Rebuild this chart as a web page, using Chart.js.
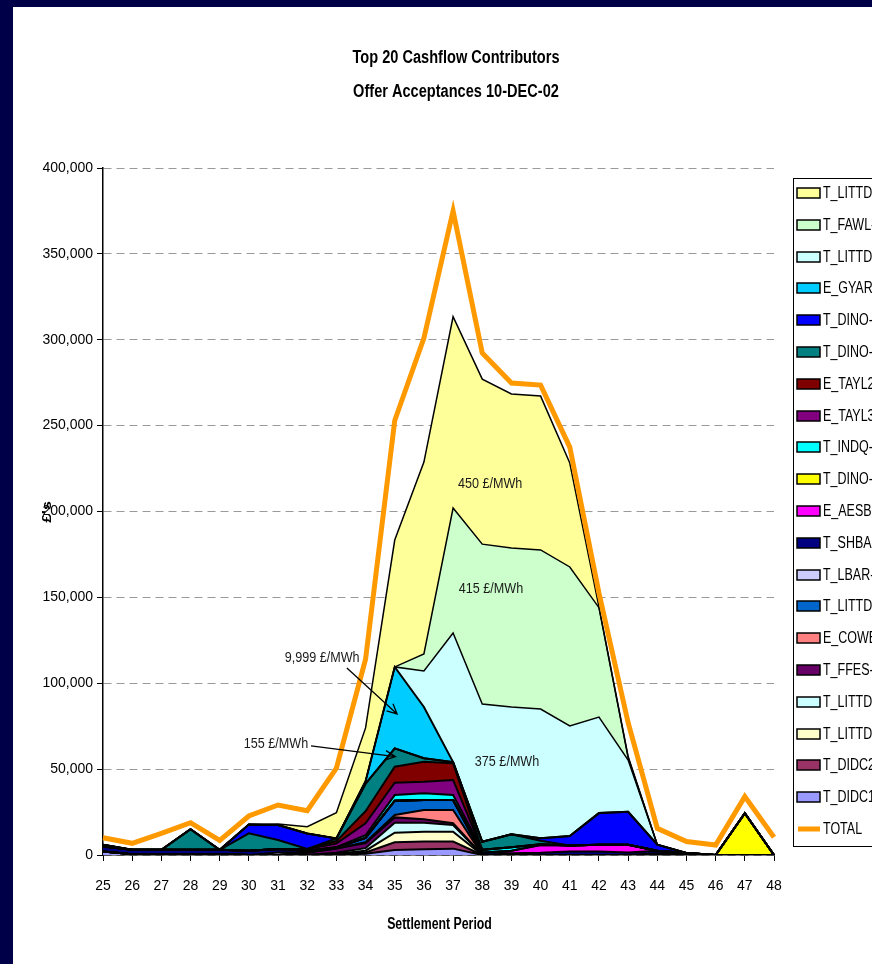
<!DOCTYPE html>
<html><head><meta charset="utf-8">
<script src="https://cdn.jsdelivr.net/npm/chart.js@4.4.1/dist/chart.umd.min.js"></script>
<style>
html,body{margin:0;padding:0;background:#000048;overflow:hidden;width:872px;height:964px;}
#frame{position:absolute;left:13px;top:7px;width:859px;height:957px;background:#fff;overflow:hidden;}
canvas{display:block;}
</style></head><body><div id="frame"><canvas id="c" width="859" height="957"></canvas></div>
<script>
// ---------------- data ----------------
const periods = ['25','26','27','28','29','30','31','32','33','34','35','36','37','38','39','40','41','42','43','44','45','46','47','48'];
const yTicks = [0,50000,100000,150000,200000,250000,300000,350000,400000];

const T_DIDC1   = [2000,500,500,500,500,0,0,0,300,700,2900,3300,3700,0,0,0,0,0,0,0,0,0,0,0];
const T_DIDC2   = [0,0,0,0,0,0,0,0,200,800,4500,4500,4100,0,0,0,0,0,0,0,0,0,0,0];
const T_LITTD_e = [0,0,0,0,0,0,0,0,300,1000,5600,5800,5800,0,0,0,0,0,0,0,0,0,0,0];
const T_LITTD_d = [0,0,0,0,0,0,0,0,500,1500,5800,5200,3900,0,0,0,0,0,0,0,0,0,0,0];
const T_FFES    = [0,0,0,0,0,0,0,1500,2500,3000,3100,2000,1000,0,0,0,0,0,0,0,0,0,0,0];
const E_COWE    = [0,0,0,0,0,0,0,0,0,500,1400,5400,7700,0,0,0,0,0,0,0,0,0,0,0];
const T_LITTD_c = [0,0,0,0,0,0,0,0,500,2500,8300,5800,5800,0,0,0,0,0,0,0,0,0,0,0];
const T_LBAR    = [0,0,0,0,0,0,1500,0,0,0,0,0,0,0,0,0,0,0,0,1000,800,0,0,0];
const T_SHBA    = [3000,2500,2500,2500,2500,2500,2000,1000,0,0,0,0,0,1500,1000,1300,2000,2000,1500,1500,400,0,0,0];
const E_AESB    = [0,0,0,0,0,0,0,0,0,0,0,0,0,0,1500,4500,3500,4000,4500,0,0,0,0,0];
const T_DINO_y  = [0,0,0,0,0,0,0,0,0,0,0,0,0,0,0,0,0,0,0,0,0,0,24300,0];
const T_INDQ    = [0,0,0,0,0,0,0,0,300,1500,3300,3900,2900,1500,2000,500,0,0,0,0,0,0,0,0];
const E_TAYL3   = [0,0,0,0,0,0,0,1000,2000,7000,7200,6800,8800,0,0,0,0,0,0,0,0,0,0,0];
const E_TAYL2   = [0,0,0,0,0,0,0,0,1500,7000,9300,11600,9700,0,0,0,0,0,0,0,0,0,0,0];
const T_DINO_t  = [1000,0,0,12000,0,10100,5200,0,1500,16000,10700,2000,700,4700,7500,2000,0,0,0,0,0,0,0,0];
const T_DINO_b  = [0,0,0,0,0,5200,8800,9000,0,0,0,0,0,0,0,1400,5500,18400,19200,3500,0,0,0,0];
const E_GYAR    = [0,0,0,0,0,0,0,0,0,1500,47400,29900,0,0,0,0,0,0,0,0,0,0,0,0];
const T_LITTD_b = [0,0,0,0,0,0,0,0,0,0,0,20900,75200,80200,74200,75300,64100,55900,30100,0,0,0,0,0];
const T_FAWL    = [0,0,0,0,0,0,0,0,0,0,0,10000,72700,93100,92500,92600,92600,63700,1500,0,0,0,0,0];
const T_LITTD_a = [0,0,0,0,0,0,500,4000,15000,31000,73900,111700,111400,96100,89700,89600,60500,500,500,0,0,0,0,0];
const TOTAL     = [10000,6800,12600,18800,8500,22700,29100,25800,50500,114000,253000,301000,375000,292300,274800,273600,237500,152500,77000,15500,7800,5800,34000,10300];

// ---------------- text ----------------
const titleLines = ['Top 20 Cashflow Contributors', 'Offer Acceptances 10-DEC-02'];
const xTitle = 'Settlement Period';
const yTitle = "£'s";

// ---------------- series (bottom of stack first) ----------------
const layers = [
  ['T_DIDC1',   T_DIDC1,   '#9999FF'],
  ['T_DIDC2',   T_DIDC2,   '#993366'],
  ['T_LITTD-5', T_LITTD_e, '#FFFFCC'],
  ['T_LITTD-4', T_LITTD_d, '#CCFFFF'],
  ['T_FFES-1',  T_FFES,    '#660066'],
  ['E_COWE-1',  E_COWE,    '#FF8080'],
  ['T_LITTD-3', T_LITTD_c, '#0066CC'],
  ['T_LBAR-1',  T_LBAR,    '#CCCCFF'],
  ['T_SHBA-1',  T_SHBA,    '#000080'],
  ['E_AESB-1',  E_AESB,    '#FF00FF'],
  ['T_DINO-6',  T_DINO_y,  '#FFFF00'],
  ['T_INDQ-1',  T_INDQ,    '#00FFFF'],
  ['E_TAYL3',   E_TAYL3,   '#800080'],
  ['E_TAYL2',   E_TAYL2,   '#800000'],
  ['T_DINO-5',  T_DINO_t,  '#008080'],
  ['T_DINO-4',  T_DINO_b,  '#0000FF'],
  ['E_GYAR-1',  E_GYAR,    '#00CCFF'],
  ['T_LITTD-2', T_LITTD_b, '#CCFFFF'],
  ['T_FAWL-1',  T_FAWL,    '#CCFFCC'],
  ['T_LITTD-1', T_LITTD_a, '#FFFF99']
];

// annotation anchors in data units (category index, value)
const notes = [
  {text:'450 £/MWh',   at:[13.27, 216000]},
  {text:'415 £/MWh',   at:[13.30, 154900]},
  {text:'375 £/MWh',   at:[13.85, 54100]},
  {text:'9,999 £/MWh', at:[7.51, 114700]},
  {text:'155 £/MWh',   at:[5.93, 64600]}
];
const arrows = [
  {from:[8.36, 108900], to:[10.08, 82100]},
  {from:[7.13, 63500],  to:[10.02, 57300]}
];

const FF = "'Liberation Sans','Arial',sans-serif";
Chart.defaults.font.family = FF;

const datasets = layers.map((l, i) => ({
  label: l[0], data: l[1], backgroundColor: l[2], borderColor: '#000',
  borderWidth: i >= 17 ? 1.5 : 2, pointRadius: 0, pointHoverRadius: 0,
  fill: i === 0 ? 'origin' : '-1', tension: 0, stack: 'units', order: 1
}));
datasets.push({
  label: 'TOTAL', data: TOTAL, borderColor: '#FF9900', backgroundColor: '#FF9900',
  borderWidth: 5, pointRadius: 0, pointHoverRadius: 0, fill: false, tension: 0,
  stack: 'total', order: 0, borderJoinStyle: 'miter'
});

function cText(ctx, text, x, y, sx) {
  ctx.save(); ctx.translate(x, y); ctx.scale(sx, 1); ctx.fillText(text, 0, 0); ctx.restore();
}

const overlay = {
  id: 'overlay',
  afterDraw(chart) {
    const ctx = chart.ctx, xs = chart.scales.x, ys = chart.scales.y;
    const X = v => xs.getPixelForValue(v), Y = v => ys.getPixelForValue(v);
    ctx.save();
    ctx.fillStyle = '#000'; ctx.textAlign = 'center'; ctx.textBaseline = 'middle';
    ctx.font = 'bold 18px ' + FF;
    cText(ctx, titleLines[0], 443, 51, 0.81);
    cText(ctx, titleLines[1], 443, 85, 0.81);
    ctx.font = 'bold 16px ' + FF;
    cText(ctx, xTitle, (xs.left + xs.right) / 2 + 1, 918, 0.77);
    ctx.save(); ctx.translate(34, 505); ctx.rotate(-Math.PI / 2); ctx.scale(1, 0.85); ctx.fillText(yTitle, 0, 0); ctx.restore();

    ctx.font = '15px ' + FF; ctx.fillStyle = '#1a1a1a';
    notes.forEach(n => cText(ctx, n.text, X(n.at[0]), Y(n.at[1]), 0.84));
    ctx.strokeStyle = '#000'; ctx.lineWidth = 1.3;
    arrows.forEach(a => {
      const fx = X(a.from[0]), fy = Y(a.from[1]), tx = X(a.to[0]), ty = Y(a.to[1]);
      const ang = Math.atan2(ty - fy, tx - fx);
      ctx.beginPath(); ctx.moveTo(fx, fy); ctx.lineTo(tx, ty);
      ctx.moveTo(tx - 11 * Math.cos(ang - 0.45), ty - 11 * Math.sin(ang - 0.45));
      ctx.lineTo(tx, ty);
      ctx.lineTo(tx - 11 * Math.cos(ang + 0.45), ty - 11 * Math.sin(ang + 0.45));
      ctx.stroke();
    });

    // legend
    const lx = 780, ly = 171, lh = 668, step = 31.8, firstY = 186;
    ctx.fillStyle = '#fff'; ctx.fillRect(lx, ly, 200, lh);
    ctx.strokeStyle = '#000'; ctx.lineWidth = 1;
    ctx.strokeRect(lx + 0.5, ly + 0.5, 200, lh);
    const items = chart.data.datasets.slice(0, layers.length).reverse();
    items.push(chart.data.datasets[layers.length]);
    ctx.font = '16px ' + FF; ctx.textAlign = 'left';
    items.forEach((d, i) => {
      const cy = Math.round(firstY + i * step);
      if (d.label === 'TOTAL') {
        ctx.strokeStyle = d.borderColor; ctx.lineWidth = 5;
        ctx.beginPath(); ctx.moveTo(785, cy); ctx.lineTo(807, cy); ctx.stroke();
      } else {
        ctx.fillStyle = d.backgroundColor; ctx.fillRect(784, cy - 5, 23, 10);
        ctx.strokeStyle = '#000'; ctx.lineWidth = 1.5; ctx.strokeRect(784, cy - 5, 23, 10);
      }
      ctx.fillStyle = '#000'; cText(ctx, d.label, 810, cy + 1, 0.78);
    });
    ctx.restore();
  }
};

new Chart(document.getElementById('c'), {
  type: 'line',
  data: { labels: periods, datasets },
  options: {
    responsive: false, animation: false, devicePixelRatio: 1, events: [],
    layout: { padding: { left: 0, right: 98, top: 161, bottom: 0 } },
    plugins: { legend: { display: false }, title: { display: false }, tooltip: { enabled: false },
      filler: { drawTime: 'beforeDatasetsDraw' } },
    scales: {
      x: {
        offset: false,
        grid: { display: true, drawOnChartArea: false, offset: false, tickLength: 6, tickColor: '#000', color: '#000' },
        border: { display: true, color: '#000', width: 1.5 },
        ticks: { color: '#000', font: { size: 14 }, padding: 17, maxRotation: 0, autoSkip: false },
        afterFit: s => { s.height = 109; }
      },
      y: {
        stacked: true, min: 0, max: 400000,
        afterBuildTicks: s => { s.ticks = yTicks.map(v => ({ value: v })); },
        grid: { color: '#9a9a9a', lineWidth: 1, tickLength: 6, tickColor: '#000', tickBorderDash: [] },
        border: { display: true, color: '#000', width: 1.5, dash: [8, 5] },
        ticks: { color: '#000', font: { size: 14 }, padding: 4,
          callback: v => Number(v).toLocaleString('en-US') },
        afterFit: s => { s.width = 90; }
      }
    }
  },
  plugins: [overlay]
});
</script></body></html>
